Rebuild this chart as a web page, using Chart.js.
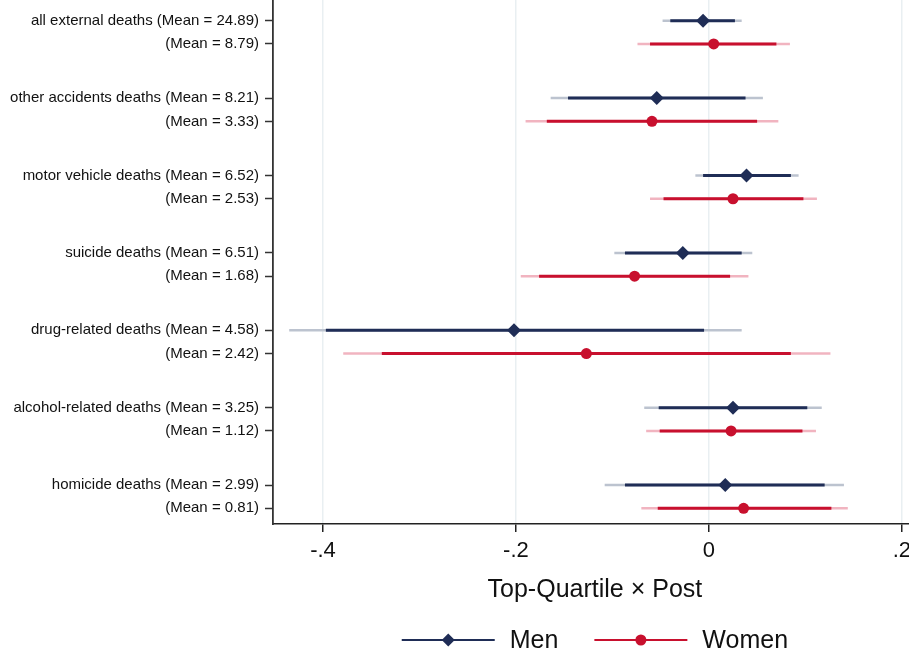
<!DOCTYPE html>
<html><head><meta charset="utf-8">
<script src="https://cdn.jsdelivr.net/npm/chart.js@4"></script>
<style>html,body{margin:0;padding:0;background:#fff;overflow:hidden}#wrap{width:917px;height:655px;position:relative}canvas{display:block}</style>
</head><body><div id="wrap"><canvas id="c" width="917" height="655"></canvas></div>
<script>
const outcomes = ["all external deaths","other accidents deaths","motor vehicle deaths","suicide deaths","drug-related deaths","alcohol-related deaths","homicide deaths"];
const menMeans = ["24.89","8.21","6.52","6.51","4.58","3.25","2.99"];
const womenMeans = ["8.79","3.33","2.53","1.68","2.42","1.12","0.81"];

const menCoef  = [-0.006,-0.054, 0.039,-0.027,-0.202, 0.025, 0.017];
const menLo90  = [-0.040,-0.146,-0.006,-0.087,-0.397,-0.052,-0.087];
const menHi90  = [ 0.027, 0.038, 0.085, 0.034,-0.005, 0.102, 0.120];
const menLo95  = [-0.048,-0.164,-0.014,-0.098,-0.435,-0.067,-0.108];
const menHi95  = [ 0.034, 0.056, 0.093, 0.045, 0.034, 0.117, 0.140];

const womenCoef = [ 0.005,-0.059, 0.025,-0.077,-0.127, 0.023, 0.036];
const womenLo90 = [-0.061,-0.168,-0.047,-0.176,-0.339,-0.051,-0.053];
const womenHi90 = [ 0.070, 0.050, 0.098, 0.022, 0.085, 0.097, 0.127];
const womenLo95 = [-0.074,-0.190,-0.061,-0.195,-0.379,-0.065,-0.070];
const womenHi95 = [ 0.084, 0.072, 0.112, 0.041, 0.126, 0.111, 0.144];

const xTicks = [-0.4,-0.2,0,0.2];
const xTickLabels = ["-.4","-.2","0",".2"];

const FONT = '"Liberation Sans", Arial, Helvetica, sans-serif';
const NAVY = '#1f2d56', NAVY_L = '#bcc3cf';
const RED = '#c8102e', RED_L = '#f1b4c0';
const OFF = 0.1503;
const menPos = outcomes.map((_, i) => i - OFF);
const womenPos = outcomes.map((_, i) => i + OFF);

const datasets = [];
datasets.push({type:'scatter', label:'Men', data: menCoef.map((v,i)=>({x:v,y:menPos[i]})), pointStyle:'rectRot', pointRadius:7, pointHoverRadius:7, backgroundColor:NAVY, borderColor:NAVY, borderWidth:0, order:0});
datasets.push({type:'scatter', label:'Women', data: womenCoef.map((v,i)=>({x:v,y:womenPos[i]})), pointStyle:'circle', pointRadius:5.5, pointHoverRadius:5.5, backgroundColor:RED, borderColor:RED, borderWidth:0, order:0});
function ci(lo, hi, pos, color, w, ord){
  lo.forEach((l,i)=>{
    datasets.push({type:'line', data:[{x:l,y:pos[i]},{x:hi[i],y:pos[i]}], borderColor:color, borderWidth:w, pointRadius:0, borderCapStyle:'butt', fill:false, order:ord});
  });
}
ci(menLo90, menHi90, menPos, NAVY, 3, 1);
ci(womenLo90, womenHi90, womenPos, RED, 3, 1);
ci(menLo95, menHi95, menPos, NAVY_L, 2.5, 2);
ci(womenLo95, womenHi95, womenPos, RED_L, 2.5, 2);

const yTickVals = [];
const yTickText = [];
outcomes.forEach((o,i)=>{
  yTickVals.push(menPos[i]); yTickText.push(o + ' (Mean = ' + menMeans[i] + ')');
  yTickVals.push(womenPos[i]); yTickText.push('(Mean = ' + womenMeans[i] + ')');
});

const legendPlugin = {
  id:'stataLegend',
  afterDraw(chart){
    const ctx = chart.ctx;
    const ca = chart.chartArea;
    const cx = (ca.left + ca.right)/2;
    const y = 640;
    ctx.save();
    ctx.font = '25px ' + FONT;
    ctx.textBaseline = 'middle';
    const lineLen = 93, gap = 15, itemGap = 36;
    const wMen = ctx.measureText('Men').width, wWomen = ctx.measureText('Women').width;
    const total = lineLen + gap + wMen + itemGap + lineLen + gap + wWomen;
    let x = cx - total/2;
    const items = [{t:'Men', c:NAVY, s:'d', w:wMen},{t:'Women', c:RED, s:'c', w:wWomen}];
    items.forEach(it=>{
      ctx.strokeStyle = it.c; ctx.lineWidth = 2;
      ctx.beginPath(); ctx.moveTo(x, y); ctx.lineTo(x+lineLen, y); ctx.stroke();
      const mx = x + lineLen/2;
      ctx.fillStyle = it.c;
      ctx.beginPath();
      if (it.s==='d'){ const r=6.5; ctx.moveTo(mx, y-r); ctx.lineTo(mx+r, y); ctx.lineTo(mx, y+r); ctx.lineTo(mx-r, y); ctx.closePath(); }
      else { ctx.arc(mx, y, 5.5, 0, Math.PI*2); }
      ctx.fill();
      ctx.fillStyle = '#111';
      ctx.textAlign = 'left';
      ctx.fillText(it.t, x + lineLen + gap, y + 1);
      x += lineLen + gap + it.w + itemGap;
    });
    ctx.restore();
  }
};

new Chart(document.getElementById('c'), {
  data:{datasets},
  options:{
    responsive:false, maintainAspectRatio:false, animation:false,
    layout:{autoPadding:false, padding:{left:0,right:0,top:0,bottom:0}},
    plugins:{legend:{display:false}, tooltip:{enabled:false}},
    scales:{
      x:{type:'linear', min:-0.4518, max:0.2155,
        afterBuildTicks(s){ s.ticks = xTicks.map(v=>({value:v})); },
        afterFit(s){ s.height = 131; },
        ticks:{callback(v){ const i = xTicks.findIndex(t=>Math.abs(t-v)<1e-6); return i>=0 ? xTickLabels[i] : ''; },
          font:{family:FONT, size:22}, color:'#111', padding:6, maxRotation:0, autoSkip:false},
        grid:{color:'#e9eff2', lineWidth:1.5, tickLength:8, tickColor:'#222', tickWidth:1.5},
        border:{display:true, color:'#222', width:1.5},
        title:{display:true, text:'Top-Quartile × Post', font:{family:FONT, size:25}, color:'#111', padding:{top:0,bottom:50}}
      },
      y:{type:'linear', reverse:true, min:-0.418, max:6.353,
        afterBuildTicks(s){ s.ticks = yTickVals.map(v=>({value:v})); },
        afterFit(s){ s.width = 273; s.paddingTop = 0; s.paddingBottom = 0; },
        ticks:{callback(v){ const i = yTickVals.findIndex(t=>Math.abs(t-v)<1e-6); return i>=0 ? yTickText[i] : ''; },
          font:{family:FONT, size:15}, color:'#111', padding:6, autoSkip:false},
        grid:{display:true, drawOnChartArea:false, drawTicks:true, tickLength:8, tickColor:'#333', tickWidth:1.5},
        border:{display:true, color:'#333', width:1.8}
      }
    }
  },
  plugins:[legendPlugin]
});
</script></body></html>
